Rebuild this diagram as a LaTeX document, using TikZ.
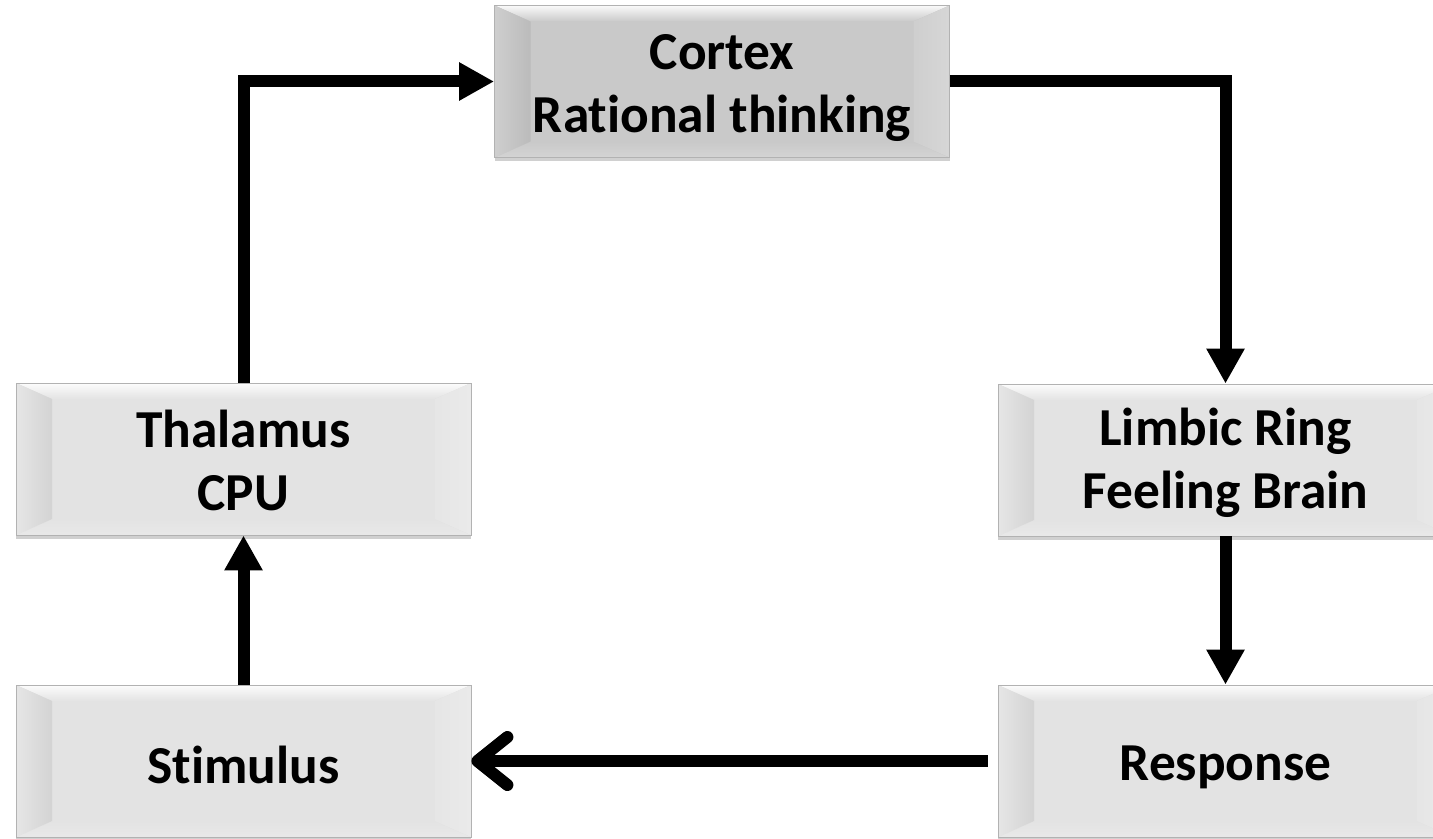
\documentclass[tikz,border=0pt]{standalone}
\usepackage{fontspec}
\setmainfont[Ligatures={NoCommon}]{Carlito}
\usetikzlibrary{arrows.meta,calc,shadows}
\definecolor{boxlight}{HTML}{E3E3E3}
\definecolor{boxdark}{HTML}{C9C9C9}
\tikzset{
  bev/.style={rectangle, minimum width=227.5pt, minimum height=76pt, inner sep=0pt,
    fill=#1, draw=black!30, line width=0.4pt,
    drop shadow={shadow xshift=0pt, shadow yshift=-1.8pt, opacity=0.3, fill=black!60},
    path picture={
      \coordinate (nw) at (path picture bounding box.north west);
      \coordinate (ne) at (path picture bounding box.north east);
      \coordinate (sw) at (path picture bounding box.south west);
      \coordinate (se) at (path picture bounding box.south east);
      \fill[top color=white!90!#1, bottom color=#1] (nw) -- (ne) -- ($(ne)+(-18pt,-8pt)$) -- ($(nw)+(18pt,-8pt)$) -- cycle;
      \fill[top color=#1, bottom color=white!20!#1] (sw) -- (se) -- ($(se)+(-18pt,8pt)$) -- ($(sw)+(18pt,8pt)$) -- cycle;
      \fill[left color=white!10!#1, right color=black!7!#1] (nw) -- ($(nw)+(18pt,-8pt)$) -- ($(sw)+(18pt,8pt)$) -- (sw) -- cycle;
      \fill[left color=white!10!#1, right color=white!25!#1] (ne) -- ($(ne)+(-18pt,-8pt)$) -- ($(se)+(-18pt,8pt)$) -- (se) -- cycle;
    }},
  boxtext/.style={align=center, inner sep=0pt, font=\bfseries\fontsize{26.7}{31.5}\selectfont},
  conn/.style={line width=6pt, line join=miter, -{Triangle[length=17.5pt,width=18pt]}},
  openconn/.style={line width=6pt, -{Straight Barb[length=15pt,width=24pt,round]}}
}
\begin{document}
\begin{tikzpicture}[x=0.5pt,y=-0.5pt]
\useasboundingbox[fill=white] (0,0) rectangle (1433,839);
\node[bev=boxdark]  (cortex)   at (722,81.5) {};
\node[bev=boxlight] (thalamus) at (243.5,459) {};
\node[bev=boxlight] (stimulus) at (243.5,761) {};
\node[bev=boxlight] (limbic)   at (1225.5,460) {};
\node[bev=boxlight] (response) at (1225.5,761) {};
\node[boxtext] (cortextxt)   at ([yshift=-3.5pt]cortex.center)   {Cortex\\Rational thinking};
\node[boxtext] (thalamustxt) at ([yshift=-0.5pt]thalamus.center) {Thalamus\\CPU};
\node[boxtext] (stimulustxt) at ([yshift=-2pt]stimulus.center)   {Stimulus};
\node[boxtext] (limbictxt)   at ([yshift=-1.5pt]limbic.center)   {Limbic Ring\\Feeling Brain};
\node[boxtext] (responsetxt) at ([yshift=-3pt]response.center)   {Response};
\coordinate (rstart) at ($(response.west)+(-5pt,0)$);
\draw[conn] (thalamus.north) |- (cortex.west);
\draw[conn] (cortex.east) -| (limbic.north);
\draw[conn] (limbic.south) -- (response.north);
\draw[conn] (stimulus.north) -- (thalamus.south);
\draw[openconn] (rstart) -- (stimulus.east);
\end{tikzpicture}
\end{document}
